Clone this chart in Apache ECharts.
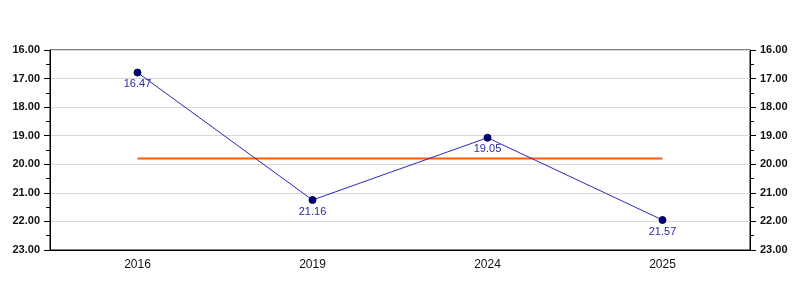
<!DOCTYPE html>
<html><head><meta charset="utf-8">
<script src="https://cdn.jsdelivr.net/npm/echarts@6/dist/echarts.min.js"></script>
<style>html,body{margin:0;padding:0;background:#fff}#c{width:800px;height:300px}</style>
</head><body><div id="c"></div>
<script>
var categories = ['2016', '2019', '2024', '2025'];
var values = [16.79, 21.25, 19.07, 21.95];
var valueLabels = ['16.47', '21.16', '19.05', '21.57'];
var meanLine = [19.8, 19.8, 19.8, 19.8];

var chart = echarts.init(document.getElementById('c'));
var yAxisCommon = {
  type: 'value', min: 16, max: 23, interval: 1, inverse: true,
  axisLine: {show: true, lineStyle: {color: '#000', width: 1}},
  axisTick: {show: true, length: 6, lineStyle: {color: '#000'}},
  minorTick: {show: true, splitNumber: 2, length: 4, lineStyle: {color: '#000'}},
  axisLabel: {color: '#111', fontSize: 11, fontFamily: 'Liberation Sans, Arial', fontWeight: 'bold', margin: 10,
    formatter: function (v) { return v.toFixed(2); }}
};
chart.setOption({
  animation: false,
  grid: {left: 50, right: 50, top: 50, bottom: 50, show: true, borderColor: '#000', borderWidth: 1, backgroundColor: 'transparent'},
  xAxis: {
    type: 'category', data: categories, boundaryGap: true,
    axisLine: {lineStyle: {color: '#000'}},
    axisTick: {alignWithLabel: true, length: 4, lineStyle: {color: '#000'}},
    axisLabel: {color: '#111', fontSize: 12, fontFamily: 'Liberation Sans, Arial', margin: 9},
    splitLine: {show: false}
  },
  yAxis: [
    Object.assign({}, yAxisCommon, {position: 'left', splitLine: {show: true, lineStyle: {color: '#d8d8d8', width: 1}}}),
    Object.assign({}, yAxisCommon, {position: 'right', splitLine: {show: false}})
  ],
  series: [
    {
      type: 'line', data: meanLine, yAxisIndex: 0, symbol: 'none',
      lineStyle: {color: '#ff5a10', width: 2}, z: 2, silent: true
    },
    {
      type: 'line', data: values, yAxisIndex: 0,
      symbol: 'circle', symbolSize: 7,
      itemStyle: {color: '#000080', borderColor: '#000040', borderWidth: 1},
      lineStyle: {color: '#2a2ab8', width: 1},
      label: {show: true, position: 'bottom', distance: 2, color: '#2a2aa0', fontSize: 11,
        fontFamily: 'Liberation Sans, Arial',
        formatter: function (p) { return valueLabels[p.dataIndex]; }},
      z: 3
    }
  ]
});
</script></body></html>
